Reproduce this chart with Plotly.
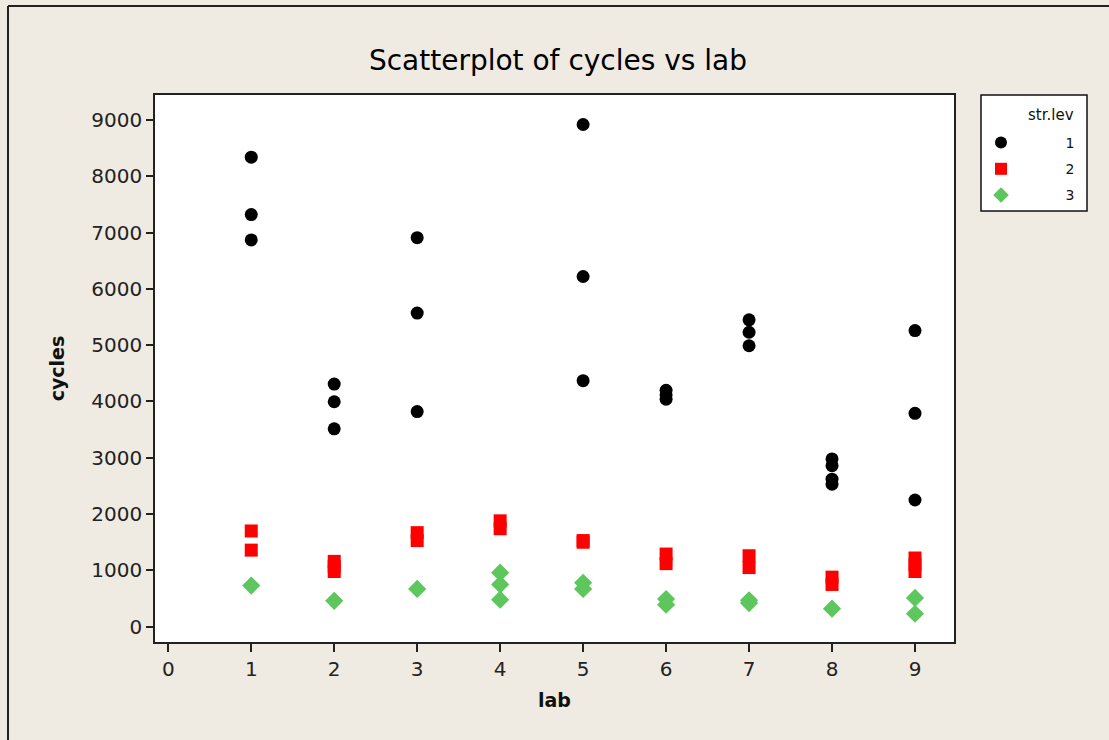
import plotly.graph_objects as go

# Fatigue cycles measured at each lab, split by stress level
lab_lev1 = [1, 1, 1, 2, 2, 2, 3, 3, 3, 5, 5, 5, 6, 6, 6, 7, 7, 7, 8, 8, 8, 8, 9, 9, 9]
cycles_lev1 = [8340, 7320, 6870, 4310, 3995, 3515, 6910, 5570, 3820,
               8920, 6220, 4370, 4200, 4120, 4040, 5450, 5230, 4990,
               2980, 2860, 2620, 2530, 5260, 3790, 2250]

lab_lev2 = [1, 1, 2, 2, 2, 3, 3, 4, 4, 5, 5, 6, 6, 7, 7, 8, 8, 9, 9, 9]
cycles_lev2 = [1700, 1360, 1160, 1070, 980, 1670, 1530, 1880, 1740,
               1530, 1500, 1290, 1120, 1260, 1050, 880, 750, 1220, 1100, 980]

lab_lev3 = [1, 2, 3, 4, 4, 4, 5, 5, 6, 6, 7, 7, 8, 9, 9]
cycles_lev3 = [730, 460, 670, 960, 750, 480, 780, 670, 490, 390, 470, 420, 320, 510, 230]

level_names = ["1", "2", "3"]
x_ticks = list(range(0, 10))
y_ticks = list(range(0, 10000, 1000))

FONT = "DejaVu Sans"
BG = "#EFEBE2"
PAD = "\u2007" * 5  # right-aligns the level numbers in the key

fig = go.Figure()
series = [
    (lab_lev1, cycles_lev1, level_names[0], dict(symbol="circle", size=13, color="black")),
    (lab_lev2, cycles_lev2, level_names[1], dict(symbol="square", size=13, color="#FF0000")),
    (lab_lev3, cycles_lev3, level_names[2], dict(symbol="diamond", size=14, color="#5DC65D")),
]
for xs, ys, name, mk in series:
    fig.add_trace(go.Scatter(
        x=xs, y=ys, mode="markers", name=PAD + name, legendgroup=name,
        marker=dict(line=dict(width=0), **mk),
    ))

# paper-coordinate helpers for the 1109x740 canvas
L, R, T, B = 155, 954, 95, 642
def px(xp):
    return (xp - L) / (R - L)
def py(yp):
    return (B - yp) / (B - T)

fig.update_layout(
    width=1109, height=740,
    margin=dict(l=L, r=1109 - R, t=T, b=740 - B, pad=0),
    paper_bgcolor=BG, plot_bgcolor="white",
    font=dict(family=FONT, color="#1a1a1a"),
    title=dict(text="Scatterplot of cycles vs lab", x=px(557), xanchor="center",
               y=1 - 60 / 740, yanchor="middle",
               font=dict(size=28, family=FONT, color="#000")),
    showlegend=True,
    legend=dict(
        x=px(981), y=py(127), xanchor="left", yanchor="top",
        bgcolor="rgba(0,0,0,0)", borderwidth=0,
        font=dict(size=14, family=FONT, color="#111"),
        tracegroupgap=5, itemsizing="constant",
    ),
    annotations=[
        dict(text="str.lev", xref="paper", yref="paper", x=px(1076), y=py(115),
             xanchor="right", yanchor="middle", showarrow=False,
             font=dict(size=15, family=FONT, color="#111")),
    ],
    shapes=[
        # key frame
        dict(type="rect", xref="paper", yref="paper", x0=px(981), x1=px(1087),
             y0=py(211), y1=py(95), line=dict(color="#111", width=1.5),
             fillcolor="white", layer="below"),
        # outer window edges
        dict(type="line", xref="paper", yref="paper", x0=px(8), x1=px(1109),
             y0=py(6), y1=py(6), line=dict(color="#222", width=2)),
        dict(type="line", xref="paper", yref="paper", x0=px(8), x1=px(8),
             y0=py(6), y1=py(740), line=dict(color="#222", width=2)),
    ],
)

fig.update_xaxes(
    range=[-0.16, 9.47], tickvals=x_ticks, ticktext=[str(v) for v in x_ticks],
    showgrid=False, zeroline=False,
    showline=True, mirror=True, linecolor="#222", linewidth=1.5,
    ticks="outside", ticklen=8, tickwidth=1.5, tickcolor="#222",
    tickfont=dict(size=20, family=FONT, color="#222"),
    title=dict(text="<b>lab</b>", standoff=14, font=dict(size=19, family=FONT, color="#111")),
)
fig.update_yaxes(
    range=[-272, 9444], tickvals=y_ticks, ticktext=[str(v) for v in y_ticks],
    showgrid=False, zeroline=False,
    showline=True, mirror=True, linecolor="#222", linewidth=1.5,
    ticks="outside", ticklen=7, tickwidth=1.5, tickcolor="#222",
    tickfont=dict(size=20, family=FONT, color="#222"),
    title=dict(text="<b>cycles</b>", standoff=22, font=dict(size=19, family=FONT, color="#111")),
)

fig.write_html("out.html")
